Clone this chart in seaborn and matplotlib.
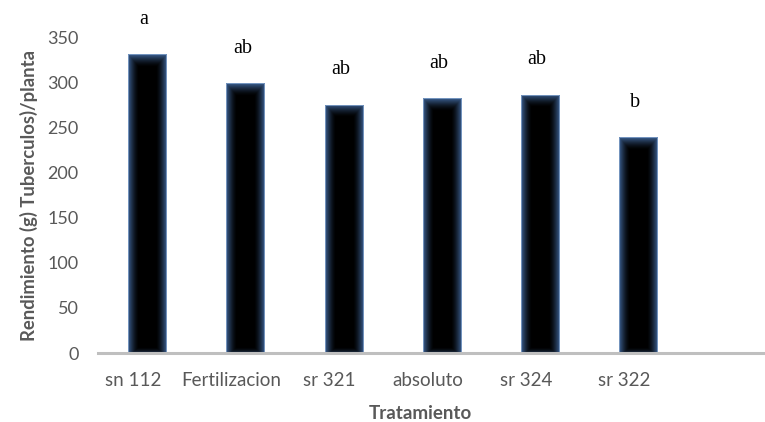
import seaborn as sns
import matplotlib.pyplot as plt
import matplotlib.transforms as mtransforms
import numpy as np
import pandas as pd

# Data
tratamientos = ['sn 112', 'Fertilizacion', 'sr 321', 'absoluto', 'sr 324', 'sr 322']
rendimiento = [331, 299, 275, 282, 286, 239]
letras = ['a', 'ab', 'ab', 'ab', 'ab', 'b']

df = pd.DataFrame({'Tratamiento': tratamientos, 'Rendimiento': rendimiento})

sns.set_style('white')
plt.rcParams['font.family'] = ['Lato', 'DejaVu Sans']
gray = '#595959'

fig = plt.figure(figsize=(7.65, 4.22), dpi=100)
ax = fig.add_axes([0.128, 0.1635, 0.872, 0.7488])

sns.barplot(x='Tratamiento', y='Rendimiento', data=df, order=tratamientos,
            color='black', width=0.387, saturation=1, ax=ax, zorder=2)

# bluish glow on each bar, like the Excel "inner shadow" style
edge = np.array([0.23, 0.37, 0.56])
for patch in ax.patches:
    x0, y0 = patch.get_x(), patch.get_y()
    w, h = patch.get_width(), patch.get_height()
    nx, ny = 80, 300
    u = np.linspace(0, 1, nx)[None, :]
    v = np.linspace(0, h, ny)[:, None]
    ex = np.clip(1 - np.minimum(u, 1 - u) / 0.28, 0, 1)
    ey = np.clip(1 - (h - v) / 14.0, 0, 1)
    eb = np.clip(1 - v / 6.0, 0, 1) * 0.6
    glow = np.maximum(np.maximum(ex, ey), eb) ** 1.6
    img = glow[..., None] * edge[None, None, :]
    im = ax.imshow(img, extent=[x0, x0 + w, y0, y0 + h], origin='lower',
                   aspect='auto', zorder=2.1, interpolation='bilinear')
    im.set_clip_path(patch)
    patch.set_edgecolor('#7f9fc8')
    patch.set_linewidth(0.6)
    patch.set_zorder(2.2)
    patch.set_facecolor('none')

# significance letters above the bars
for i, (val, txt) in enumerate(zip(rendimiento, letras)):
    ax.annotate(txt, xy=(i, val), xytext=(-3, 35), textcoords='offset pixels',
                ha='center', va='center', fontsize=14.5,
                family=['Liberation Serif'], color='black', annotation_clip=False)

ax.set_xlim(-0.5, 6.29)
ax.set_ylim(0, 350)
ax.set_yticks(range(0, 351, 50))

sns.despine(ax=ax, left=True, right=True, top=True)
ax.spines['bottom'].set_color('#bfbfbf')
ax.spines['bottom'].set_linewidth(2.2)
ax.spines['bottom'].set_zorder(3)

ax.tick_params(axis='both', length=0, labelcolor=gray)
ax.tick_params(axis='x', pad=14, labelsize=13.5)
ax.tick_params(axis='y', pad=14, labelsize=13)

# Excel nudged the category labels a bit to the left
shift = mtransforms.ScaledTranslation(-14 / 100, 0, fig.dpi_scale_trans)
for lab in ax.get_xticklabels():
    lab.set_transform(lab.get_transform() + shift)

ax.set_xlabel('Tratamiento', fontsize=13.5, fontweight='bold', color=gray)
ax.set_ylabel('Rendimiento (g) Tuberculos)/planta', fontsize=13.3,
              fontweight='bold', color=gray)
ax.xaxis.set_label_coords(0.483, -0.166)
ax.yaxis.set_label_coords(-0.09, 0.5)

fig.savefig('out.png', dpi=100)
